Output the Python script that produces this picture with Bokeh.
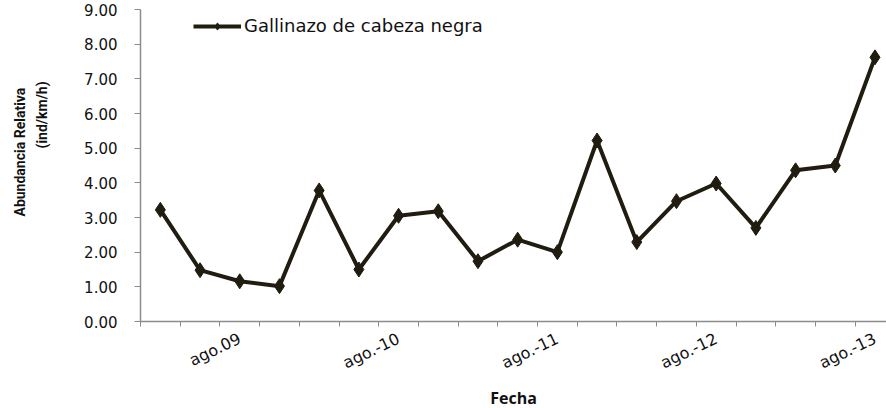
import numpy as np
from bokeh.plotting import figure
from bokeh.models import (Range1d, FixedTicker, Title, Legend, LegendItem,
                          NumeralTickFormatter)
from bokeh.embed import file_html
from bokeh.resources import INLINE

# ---- data ----
fechas = ["feb.09", "may.09", "ago.09", "nov.09",
          "feb.10", "may.10", "ago.10", "nov.10",
          "feb.11", "may.11", "ago.11", "nov.11",
          "feb.12", "may.12", "ago.12", "nov.12",
          "feb.13", "may.13", "ago.13"]
abundancia = [3.22, 1.48, 1.16, 1.02,
              3.78, 1.50, 3.05, 3.18,
              1.74, 2.36, 2.00, 5.22,
              2.29, 3.47, 3.98, 2.70,
              4.36, 4.50, 7.62]
tick_labels = ["ago.09", "ago.-10", "ago.-11", "ago.-12", "ago.-13"]
serie = "Gallinazo de cabeza negra"
y_title = ["Abundancia Relativa", "(ind/km/h)"]
x_title = "Fecha"

x = np.arange(len(fechas))
ago_idx = [i for i, f in enumerate(fechas) if f.startswith("ago")]

COL = "#201c10"
AXC = "#8c8c8c"
FONT = "DejaVu Sans"

p = figure(frame_width=746, frame_height=312, output_backend="svg",
           toolbar_location=None,
           x_range=Range1d(-0.5, 18.29), y_range=Range1d(0, 9),
           min_border_left=140, min_border_right=0, min_border_top=9,
           min_border_bottom=0)
p.outline_line_color = None
p.xgrid.grid_line_color = None
p.ygrid.grid_line_color = None
p.background_fill_color = "white"
p.border_fill_color = "white"

r_line = p.line(x, abundancia, line_color=COL, line_width=4)
r_pts = p.scatter(x, abundancia, marker="diamond", size=15,
                  fill_color=COL, line_color=COL)

# x axis
xa = p.xaxis[0]
xa.ticker = FixedTicker(ticks=ago_idx,
                        minor_ticks=[i - 0.5 for i in range(len(fechas) + 1)])
xa.major_label_overrides = {i: t for i, t in zip(ago_idx, tick_labels)}
xa.major_tick_out = 0
xa.major_tick_in = 0
xa.minor_tick_out = 5
xa.minor_tick_in = 0
xa.minor_tick_line_color = AXC
xa.axis_line_color = AXC
xa.axis_line_width = 1.5
xa.major_label_orientation = 0.45
xa.major_label_text_font = FONT
xa.major_label_text_font_size = "16px"
xa.major_label_text_color = "#111111"
xa.major_label_standoff = 11

has_standoff = "standoff" in Title.properties()
ft = Title(text=x_title, align="center", text_font="Open Sans",
           text_font_style="bold", text_font_size="16px",
           text_color="#111111")
if has_standoff:
    ft.standoff = 0
p.add_layout(ft, "below")

# y axis
ya = p.yaxis[0]
ya.ticker = FixedTicker(ticks=list(range(0, 10)))
ya.formatter = NumeralTickFormatter(format="0.00")
ya.major_tick_out = 6
ya.major_tick_in = 0
ya.minor_tick_out = 0
ya.minor_tick_in = 0
ya.major_tick_line_color = AXC
ya.axis_line_color = AXC
ya.axis_line_width = 1.5
ya.major_label_text_font = FONT
ya.major_label_text_font_size = "15px"
ya.major_label_text_color = "#111111"
ya.major_label_standoff = 17
# blank axis label used only as spacing before the titles
ya.axis_label = " "
ya.axis_label_text_font_size = "1px"
ya.axis_label_standoff = 25

# y title: two titles stacked in the left panel
for txt, off, so in [(y_title[1], 173, 4), (y_title[0], 105, 4)]:
    t = Title(text=txt, align="left", offset=off, text_font="Roboto",
              text_font_style="bold", text_font_size="14px",
              text_color="#111111")
    if has_standoff:
        t.standoff = so
    p.add_layout(t, "left")

legend = Legend(items=[LegendItem(label=serie, renderers=[r_line, r_pts])],
                location=(53, 285), glyph_width=48, glyph_height=18,
                label_standoff=3, padding=0, margin=0,
                border_line_color=None, background_fill_alpha=0,
                label_text_font=FONT, label_text_font_size="18px",
                label_text_color="#111111")
p.add_layout(legend)

open("out.html", "w").write(file_html(p, INLINE))
